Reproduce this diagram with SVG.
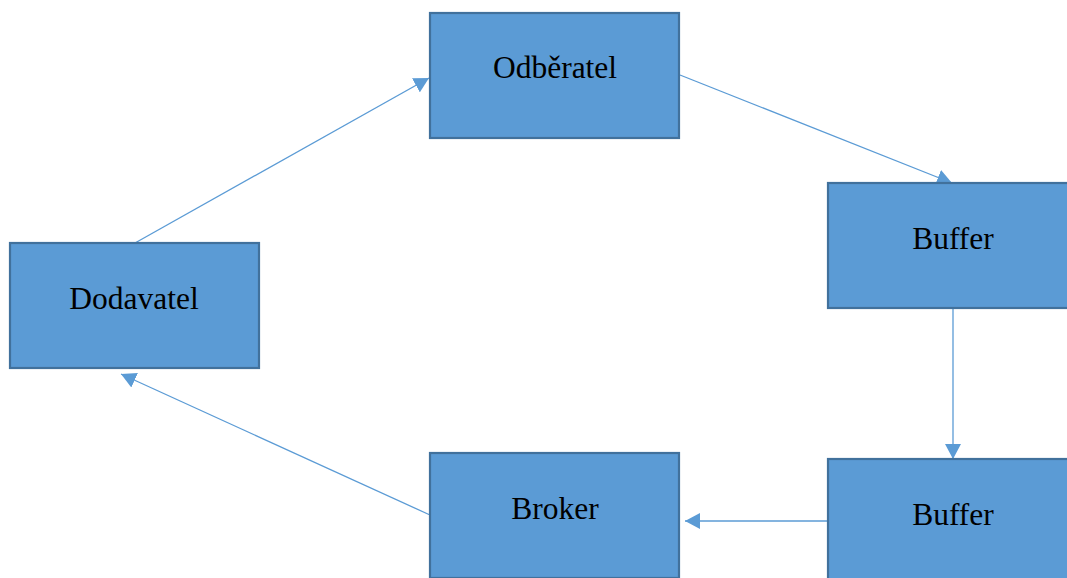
<svg xmlns="http://www.w3.org/2000/svg" width="1067" height="578" viewBox="0 0 1067 578">
<style>
.box{fill:#5B9BD5;stroke:#41719C;stroke-width:2.2}
.lbl{font-family:"Liberation Serif",serif;font-size:31.5px;fill:#000;text-anchor:middle}
.conn{stroke:#5B9BD5;stroke-width:1.3;fill:none;marker-end:url(#ah)}
</style>
<defs>
<marker id="ah" markerUnits="userSpaceOnUse" markerWidth="16" markerHeight="16" refX="15" refY="8" orient="auto">
<path d="M0,0 L15,8 L0,16 Z" fill="#5B9BD5"/>
</marker>
</defs>
<rect width="1067" height="578" fill="#fff"/>
<g id="connectors">
<line class="conn" x1="135" y1="243" x2="429" y2="78"/>
<line class="conn" x1="680" y1="75" x2="952" y2="183"/>
<line class="conn" x1="953" y1="308" x2="953" y2="459"/>
<line class="conn" x1="828" y1="521" x2="685" y2="521"/>
<line class="conn" x1="430" y1="515" x2="121" y2="374"/>
</g>
<g id="odberatel"><rect class="box" x="430" y="13" width="249" height="125"/><text class="lbl" x="555" y="78">Odběratel</text></g>
<g id="buffer1"><rect class="box" x="828" y="183" width="250" height="125"/><text class="lbl" x="953" y="249">Buffer</text></g>
<g id="buffer2"><rect class="box" x="828" y="459" width="250" height="125"/><text class="lbl" x="953" y="525">Buffer</text></g>
<g id="dodavatel"><rect class="box" x="10" y="243" width="249" height="125"/><text class="lbl" x="134" y="309">Dodavatel</text></g>
<g id="broker"><rect class="box" x="430" y="453" width="249" height="125"/><text class="lbl" x="555" y="519">Broker</text></g>
</svg>
